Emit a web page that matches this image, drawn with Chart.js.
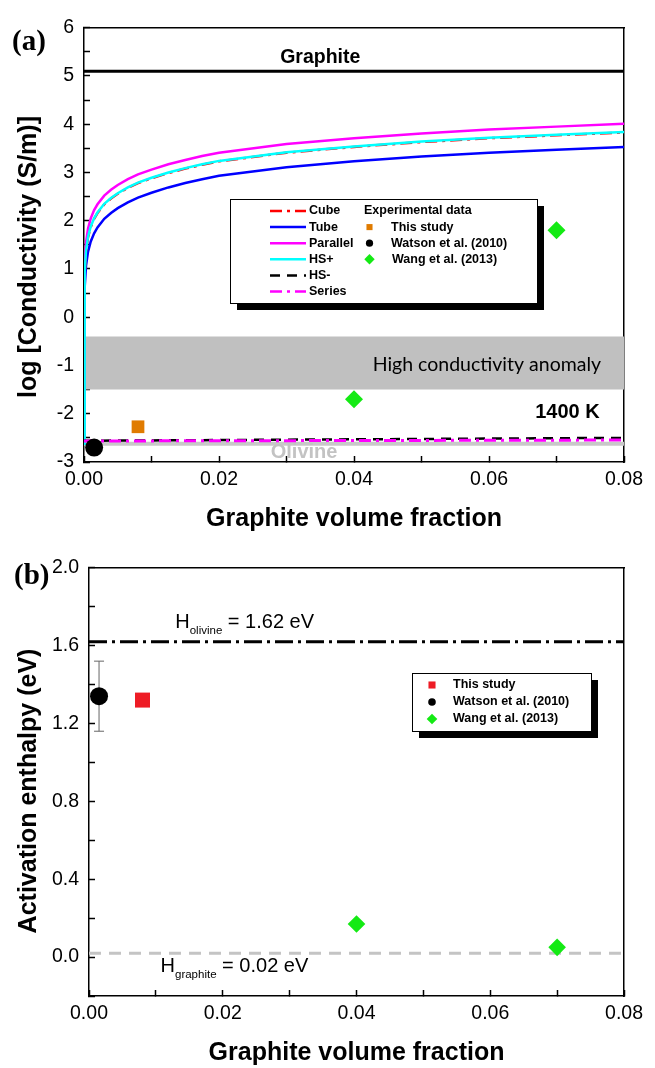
<!DOCTYPE html>
<html>
<head>
<meta charset="utf-8">
<title>Graphite–olivine conductivity</title>
<script src="https://cdn.jsdelivr.net/npm/chart.js@4.4.1/dist/chart.umd.min.js"></script>
<style>
  html, body { margin: 0; padding: 0; background: #fff; }
  canvas { position: absolute; left: 0; display: block; }
  #c-cond { top: 0; }
  #c-enth { top: 540px; }
</style>
</head>
<body>
<canvas id="c-cond" width="655" height="540"></canvas>
<canvas id="c-enth" width="655" height="528"></canvas>
<script>
/* global Chart */
(function () {
  "use strict";

  // ---- (a) mixing-model curves, log10 conductivity vs graphite fraction ----
  const fraction = [0, 0.0001, 0.0003, 0.0006, 0.001, 0.0015, 0.002, 0.003, 0.004, 0.005,
    0.0065, 0.008, 0.01, 0.0125, 0.015, 0.0175, 0.02, 0.03, 0.04, 0.05, 0.06, 0.07, 0.08];
  const parallel = [-2.62, 1.10, 1.55, 1.84, 2.05, 2.22, 2.34, 2.52, 2.64, 2.74,
    2.86, 2.96, 3.06, 3.17, 3.26, 3.34, 3.41, 3.59, 3.71, 3.81, 3.89, 3.95, 4.01];
  const hsUpper = [-2.62, 0.93, 1.38, 1.67, 1.88, 2.05, 2.17, 2.35, 2.47, 2.57,
    2.69, 2.79, 2.89, 3.00, 3.09, 3.17, 3.24, 3.42, 3.54, 3.64, 3.72, 3.78, 3.84];
  const cube = [-2.62, 0.92, 1.37, 1.66, 1.87, 2.04, 2.16, 2.34, 2.46, 2.56,
    2.68, 2.78, 2.88, 2.99, 3.08, 3.16, 3.23, 3.41, 3.53, 3.63, 3.71, 3.77, 3.83];
  const tube = [-2.62, 0.62, 1.07, 1.36, 1.57, 1.74, 1.86, 2.04, 2.16, 2.26,
    2.38, 2.48, 2.58, 2.69, 2.78, 2.86, 2.93, 3.11, 3.23, 3.33, 3.41, 3.47, 3.53];

  const lowerFraction = [0, 0.02, 0.04, 0.06, 0.08];
  const hsLower = [-2.56, -2.545, -2.53, -2.515, -2.50];
  const series = [-2.565, -2.56, -2.555, -2.55, -2.545];

  const graphiteLog = 5.1;
  const olivineLog = -2.62;
  const anomalyTop = -0.4;
  const anomalyBottom = -1.5;

  const studyFracA = [0.008];
  const studyLogA = [-2.27];
  const watsonFracA = [0.0015];
  const watsonLogA = [-2.70];
  const wangFracA = [0.04, 0.07];
  const wangLogA = [-1.7, 1.8];

  // ---- (b) activation enthalpy ----
  const studyFracB = [0.008];
  const studyH = [1.32];
  const watsonFracB = [0.0015];
  const watsonH = [1.34];
  const watsonHErr = [0.18];
  const wangFracB = [0.04, 0.07];
  const wangH = [0.17, 0.05];
  const hOlivine = 1.62;
  const hGraphite = 0.02;

  const X_MIN = 0;
  const X_MAX = 0.08;
  const FONT = '"Liberation Sans", Arial, sans-serif';

  Chart.defaults.font.family = FONT;
  Chart.defaults.color = "#000";

  function pts(xs, ys) {
    return xs.map(function (x, i) { return { x: x, y: ys[i] }; });
  }
  function hline(y) {
    return [{ x: X_MIN, y: y }, { x: X_MAX, y: y }];
  }

  function curve(label, data, color, dash, width) {
    return {
      type: "line",
      label: label,
      data: data,
      borderColor: color,
      backgroundColor: color,
      borderDash: dash || [],
      borderWidth: width || 2.5,
      pointRadius: 0,
      tension: 0,
      fill: false,
    };
  }

  function marker(label, data, color, style, radius) {
    return {
      type: "scatter",
      label: label,
      data: data,
      pointStyle: style,
      pointRadius: radius,
      backgroundColor: color,
      borderColor: color,
      borderWidth: 0,
      clip: false,
    };
  }

  // box frame: labelled bottom/left axes plus bare mirrored top/right axes,
  // all with inward tick marks
  function frameAxes(o) {
    function edge(position, fitSize, labelCb) {
      const horizontal = position === "top" || position === "bottom";
      const axis = {
        type: "linear",
        position: position,
        min: horizontal ? o.xMin : o.yMin,
        max: horizontal ? o.xMax : o.yMax,
        afterFit: function (scale) {
          if (horizontal) scale.height = fitSize;
          else scale.width = fitSize;
        },
        grid: {
          drawOnChartArea: false,
          color: "#000",
          tickLength: -6,
          tickWidth: 1.5,
        },
        border: { color: "#000", width: 1.5 },
        ticks: {
          stepSize: horizontal ? o.xStep : o.yStep,
          autoSkip: false,
          maxRotation: 0,
          display: !!labelCb,
          color: "#000",
          font: { family: FONT, size: 19.5 },
          padding: horizontal ? o.xTickPad : o.yTickPad,
          callback: labelCb,
        },
      };
      if (position === "bottom") {
        axis.title = {
          display: true,
          text: "Graphite volume fraction",
          color: "#000",
          font: { family: FONT, size: 25, weight: "bold" },
          padding: { top: 0, bottom: o.titlePad },
        };
      }
      return axis;
    }
    return {
      x: edge("bottom", o.bottomSize, o.xLabel),
      xTop: edge("top", 0, null),
      y: edge("left", o.leftSize, o.yLabel),
      yRight: edge("right", 0, null),
    };
  }

  function xTickLabel(v) {
    return Math.round(v * 100) % 2 === 0 ? v.toFixed(2) : "";
  }

  function drawText(ctx, t, x, y) {
    ctx.save();
    ctx.font = t.font;
    ctx.fillStyle = t.color || "#000";
    ctx.textAlign = t.align || "left";
    ctx.textBaseline = "middle";
    ctx.fillText(t.text, x, y);
    ctx.restore();
  }

  // "H" with a subscript, then the rest of the label
  function drawSubscripted(ctx, x, y, base, sub, rest) {
    ctx.save();
    ctx.fillStyle = "#000";
    ctx.textBaseline = "alphabetic";
    ctx.textAlign = "left";
    ctx.font = "20px " + FONT;
    ctx.fillText(base, x, y);
    let w = ctx.measureText(base).width;
    ctx.font = "11.5px " + FONT;
    ctx.fillText(sub, x + w, y + 6);
    w += ctx.measureText(sub).width;
    ctx.font = "20px " + FONT;
    ctx.fillText(rest, x + w, y);
    ctx.restore();
  }

  function findDataset(chart, label) {
    return chart.data.datasets.find(function (d) { return d.label === label; });
  }

  function drawLegendFrame(ctx, box) {
    ctx.save();
    ctx.fillStyle = "#000";
    ctx.fillRect(box.x + 7, box.y + 7, box.w, box.h);
    ctx.fillStyle = "#fff";
    ctx.fillRect(box.x, box.y, box.w, box.h);
    ctx.strokeStyle = "#000";
    ctx.lineWidth = 1;
    ctx.strokeRect(box.x + 0.5, box.y + 0.5, box.w, box.h);
    ctx.restore();
  }

  function drawLegendLine(ctx, ds, x1, x2, y) {
    ctx.save();
    ctx.strokeStyle = ds.borderColor;
    ctx.lineWidth = 2.5;
    ctx.setLineDash(ds.borderDash || []);
    ctx.beginPath();
    ctx.moveTo(x1, y);
    ctx.lineTo(x2, y);
    ctx.stroke();
    ctx.restore();
  }

  function drawLegendMarker(ctx, ds, x, y, radius) {
    ctx.save();
    ctx.fillStyle = ds.backgroundColor;
    ctx.strokeStyle = ds.borderColor;
    Chart.helpers.drawPoint(ctx, {
      pointStyle: ds.pointStyle,
      radius: radius,
      rotation: 0,
      borderWidth: 0,
    }, x, y);
    ctx.restore();
  }

  const legendFont = "bold 12.5px " + FONT;

  // ---------------- (a) conductivity ----------------
  const annotationsA = [
    { text: "Graphite", x: 0.035, y: 5.37, align: "center", font: "bold 19.5px " + FONT },
    { text: "High conductivity anomaly", x: 0.0766, y: -0.98, align: "right",
      font: '19.5px Lato, "Open Sans", sans-serif', color: "#000" },
    { text: "1400 K", x: 0.0764, y: -1.98, align: "right", font: "bold 20px " + FONT },
    { text: "Olivine", x: 0.0326, y: -2.81, align: "center", font: "bold 20px " + FONT, color: "#c3c3c3" },
  ];

  const condDecor = {
    id: "condDecor",
    afterDatasetsDraw: function (chart) {
      const ctx = chart.ctx;
      const sx = chart.scales.x;
      const sy = chart.scales.y;
      annotationsA.forEach(function (t) {
        drawText(ctx, t, sx.getPixelForValue(t.x), sy.getPixelForValue(t.y));
      });
    },
    afterDraw: function (chart) {
      const ctx = chart.ctx;
      drawText(ctx, { text: "(a)", font: 'bold 29px "Liberation Serif", serif' }, 12, 43);

      // y axis title, rotated
      ctx.save();
      ctx.translate(29, 257);
      ctx.rotate(-Math.PI / 2);
      drawText(ctx, { text: "log [Conductivity (S/m)]", align: "center", font: "bold 25px " + FONT }, 0, 0);
      ctx.restore();

      const box = { x: 230, y: 199, w: 307, h: 104 };
      drawLegendFrame(ctx, box);
      const rowY = function (i) { return 211 + i * 16.1; };
      ["Cube", "Tube", "Parallel", "HS+", "HS-", "Series"].forEach(function (name, i) {
        drawLegendLine(ctx, findDataset(chart, name), 270, 306, rowY(i));
        drawText(ctx, { text: name, font: legendFont }, 309, rowY(i));
      });
      drawText(ctx, { text: "Experimental data", font: legendFont }, 364, rowY(0));
      [["This study", 4.3, 391], ["Watson et al. (2010)", 3.6, 391], ["Wang et al. (2013)", 5.2, 392]]
        .forEach(function (row, i) {
          drawLegendMarker(ctx, findDataset(chart, row[0]), 369.5, rowY(i + 1), row[1]);
          drawText(ctx, { text: row[0], font: legendFont }, row[2], rowY(i + 1));
        });
    },
  };

  new Chart(document.getElementById("c-cond"), {
    type: "scatter",
    data: {
      datasets: [
        marker("Watson et al. (2010)", pts(watsonFracA, watsonLogA), "#000000", "circle", 9),
        marker("This study", pts(studyFracA, studyLogA), "#e07b00", "rect", 9),
        marker("Wang et al. (2013)", pts(wangFracA, wangLogA), "#14ea14", "rectRot", 9),
        curve("Series", pts(lowerFraction, series), "#ff00ff", [12, 5, 3, 5], 3),
        curve("HS-", pts(lowerFraction, hsLower), "#000000", [10, 7], 2.5),
        curve("HS+", pts(fraction, hsUpper), "#00ffff", []),
        curve("Parallel", pts(fraction, parallel), "#ff00ff", []),
        curve("Cube", pts(fraction, cube), "#ff0000", [12, 5, 3, 5]),
        curve("Tube", pts(fraction, tube), "#0000ff", []),
        curve("graphite", hline(graphiteLog), "#000000", [], 3),
        curve("olivine", hline(olivineLog), "#c8c8c8", [], 4),
        {
          type: "line", label: "anomaly", data: hline(anomalyTop),
          borderColor: "rgba(0,0,0,0)", backgroundColor: "#c0c0c0",
          pointRadius: 0, fill: "+1",
        },
        {
          type: "line", label: "anomaly-base", data: hline(anomalyBottom),
          borderColor: "rgba(0,0,0,0)", pointRadius: 0, fill: false,
        },
      ],
    },
    options: {
      responsive: false,
      animation: false,
      events: [],
      layout: { padding: { left: 0, right: 22, top: 18, bottom: 0 } },
      plugins: { legend: { display: false }, tooltip: { enabled: false } },
      scales: frameAxes({
        xMin: X_MIN, xMax: X_MAX, xStep: 0.01,
        yMin: -3, yMax: 6, yStep: 0.5,
        leftSize: 84, bottomSize: 78,
        xTickPad: 12, yTickPad: 16, titlePad: 6,
        xLabel: xTickLabel,
        yLabel: function (v) { return Number.isInteger(v) ? String(v) : ""; },
      }),
    },
    plugins: [condDecor],
  });

  // ---------------- (b) activation enthalpy ----------------
  const enthDecor = {
    id: "enthDecor",
    afterDatasetsDraw: function (chart) {
      const ctx = chart.ctx;
      const sx = chart.scales.x;
      const sy = chart.scales.y;
      drawSubscripted(ctx, sx.getPixelForValue(0.0129), sy.getPixelForValue(1.69),
        "H", "olivine", " = 1.62 eV");
      drawSubscripted(ctx, sx.getPixelForValue(0.0107), sy.getPixelForValue(-0.077),
        "H", "graphite", " = 0.02 eV");
    },
    afterDraw: function (chart) {
      const ctx = chart.ctx;
      drawText(ctx, { text: "(b)", font: 'bold 29px "Liberation Serif", serif' }, 14, 37);

      ctx.save();
      ctx.translate(29.5, 251);
      ctx.rotate(-Math.PI / 2);
      drawText(ctx, { text: "Activation enthalpy (eV)", align: "center", font: "bold 25px " + FONT }, 0, 0);
      ctx.restore();

      const box = { x: 412, y: 133, w: 179, h: 58 };
      drawLegendFrame(ctx, box);
      [["This study", 5], ["Watson et al. (2010)", 3.8], ["Wang et al. (2013)", 5.3]]
        .forEach(function (row, i) {
          const y = 145 + i * 17;
          drawLegendMarker(ctx, findDataset(chart, row[0]), 432, y, row[1]);
          drawText(ctx, { text: row[0], font: legendFont }, 453, y);
        });
    },
  };

  const watsonBar = pts(watsonFracB.concat(watsonFracB),
    [watsonH[0] - watsonHErr[0], watsonH[0] + watsonHErr[0]]);

  new Chart(document.getElementById("c-enth"), {
    type: "scatter",
    data: {
      datasets: [
        marker("Watson et al. (2010)", pts(watsonFracB, watsonH), "#000000", "circle", 9),
        {
          type: "line", label: "watson-error", data: watsonBar,
          borderColor: "#666", borderWidth: 1, pointStyle: "line",
          pointRadius: 5, pointBorderColor: "#666", pointBorderWidth: 1, clip: false,
        },
        marker("This study", pts(studyFracB, studyH), "#ee1c25", "rect", 10.6),
        marker("Wang et al. (2013)", pts(wangFracB, wangH), "#14ea14", "rectRot", 8.8),
        curve("olivine", hline(hOlivine), "#000000", [18, 5, 3, 5], 3),
        curve("graphite", hline(hGraphite), "#c4c4c4", [12, 8], 3),
      ],
    },
    options: {
      responsive: false,
      animation: false,
      events: [],
      layout: { padding: { left: 0, right: 21, top: 12, bottom: 0 } },
      plugins: { legend: { display: false }, tooltip: { enabled: false } },
      scales: frameAxes({
        xMin: X_MIN, xMax: X_MAX, xStep: 0.01,
        yMin: -0.2, yMax: 2.0, yStep: 0.2,
        leftSize: 89, bottomSize: 72,
        xTickPad: 12, yTickPad: 16, titlePad: 0,
        xLabel: xTickLabel,
        yLabel: function (v) { return Math.round(v * 10) % 4 === 0 ? v.toFixed(1) : ""; },
      }),
    },
    plugins: [enthDecor],
  });
})();
</script>
</body>
</html>
